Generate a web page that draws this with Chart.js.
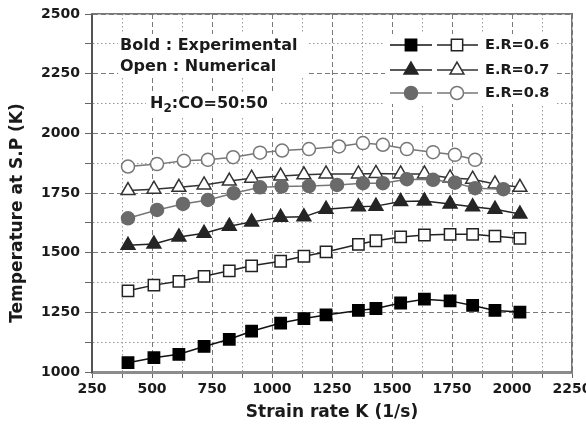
<!DOCTYPE html>
<html><head><meta charset="utf-8">
<script src="https://cdn.jsdelivr.net/npm/chart.js@4/dist/chart.umd.min.js"></script>
<style>
html,body{margin:0;padding:0;background:#fff;overflow:hidden;}
#wrap{position:relative;width:600px;height:438px;}
</style></head><body>
<div id="wrap"><canvas id="c" width="600" height="438"></canvas></div>
<script>
// ---- data ----
const strainRate07 = [400, 508, 612, 717, 822, 915, 1036, 1133, 1225, 1360, 1433, 1536, 1635, 1742, 1836, 1929, 2033];
const strainRate06 = strainRate07;
const tempExp06 = [1039, 1060, 1074, 1107, 1137, 1171, 1205, 1224, 1239, 1258, 1266, 1289, 1305, 1298, 1279, 1258, 1251];
const tempNum06 = [1340, 1364, 1380, 1401, 1424, 1445, 1464, 1485, 1503, 1535, 1550, 1566, 1574, 1577, 1577, 1569, 1560];
const tempExp07 = [1531, 1536, 1566, 1581, 1611, 1629, 1648, 1650, 1682, 1692, 1695, 1714, 1716, 1704, 1692, 1682, 1662];
const tempNum07 = [1760, 1766, 1774, 1784, 1800, 1812, 1821, 1826, 1830, 1830, 1832, 1830, 1830, 1813, 1808, 1788, 1774];
const strainRateExp08 = [400, 521, 629, 733, 840, 950, 1040, 1154, 1271, 1379, 1462, 1562, 1671, 1762, 1846, 1964];
const tempExp08 = [1644, 1679, 1704, 1721, 1749, 1774, 1777, 1779, 1784, 1791, 1791, 1808, 1805, 1793, 1770, 1766];
const strainRateNum08 = [400, 521, 633, 733, 838, 950, 1042, 1154, 1279, 1379, 1462, 1562, 1671, 1762, 1846];
const tempNum08 = [1861, 1871, 1885, 1889, 1900, 1919, 1928, 1934, 1945, 1959, 1952, 1934, 1921, 1910, 1889];
const legendLabels = ['E.R=0.6', 'E.R=0.7', 'E.R=0.8'];
const xTitle = 'Strain rate K (1/s)';
const yTitle = 'Temperature at S.P (K)';

const FONT = "'DejaVu Sans', Verdana, sans-serif";
const pts = (xs, ys) => xs.map((x, i) => ({x, y: ys[i]}));

const styles = [
  {shape:'rect', r:8, fill:'#000000', stroke:'#000000', line:'#111111'},
  {shape:'rect', r:8, fill:'#ffffff', stroke:'#222222', line:'#222222'},
  {shape:'triangle', r:8, fill:'#252525', stroke:'#252525', line:'#222222'},
  {shape:'triangle', r:8, fill:'#ffffff', stroke:'#333333', line:'#333333'},
  {shape:'circle', r:6.5, fill:'#6a6a6a', stroke:'#6a6a6a', line:'#777777'},
  {shape:'circle', r:6.5, fill:'#ffffff', stroke:'#777777', line:'#777777'}
];
function ds(label, data, s, order) {
  return {label, data, order, borderColor:s.line, borderWidth:1.5, backgroundColor:s.fill,
    pointStyle:s.shape, pointRadius:s.r, pointHoverRadius:s.r, pointBackgroundColor:s.fill,
    pointBorderColor:s.stroke, pointBorderWidth:1.5, tension:0, fill:false};
}

function drawMarker(ctx, s, x, y) {
  ctx.save();
  ctx.fillStyle = s.fill; ctx.strokeStyle = s.stroke; ctx.lineWidth = 1.5;
  ctx.beginPath();
  if (s.shape === 'rect') {
    const h = s.r * Math.SQRT1_2; ctx.rect(x - h, y - h, 2*h, 2*h);
  } else if (s.shape === 'triangle') {
    for (let k = 0; k < 3; k++) {
      const a = -Math.PI/2 + k*2*Math.PI/3;
      const px = x + Math.cos(a)*s.r, py = y + Math.sin(a)*s.r;
      k ? ctx.lineTo(px, py) : ctx.moveTo(px, py);
    }
    ctx.closePath();
  } else { ctx.arc(x, y, s.r, 0, Math.PI*2); }
  ctx.fill(); ctx.stroke(); ctx.restore();
}

const overlay = {
  id:'overlay',
  beforeDatasetsDraw(chart) {
    const ctx = chart.ctx;
    ctx.save(); ctx.fillStyle = '#fff';
    ctx.fillRect(118, 34, 190, 44);
    ctx.fillRect(146, 93, 134, 24);
    ctx.fillRect(385, 34, 170, 70);
    ctx.restore();
  },
  afterDatasetsDraw(chart) {
    const ctx = chart.ctx;
    ctx.save();
    ctx.fillStyle = '#1a1a1a'; ctx.textBaseline = 'middle'; ctx.textAlign = 'left';
    ctx.font = "bold 16px " + FONT;
    ctx.fillText('Bold : Experimental', 120, 46);
    ctx.fillText('Open : Numerical', 120, 67);
    // H2:CO=50:50 with subscript
    let x = 150;
    ctx.fillText('H', x, 104); x += ctx.measureText('H').width;
    ctx.font = "bold 12px " + FONT; ctx.fillText('2', x, 109); x += ctx.measureText('2').width;
    ctx.font = "bold 16px " + FONT; ctx.fillText(':CO=50:50', x, 104);
    // legend
    ctx.font = "bold 14.5px " + FONT;
    const rows = [45, 70, 93];
    for (let i = 0; i < 3; i++) {
      const y = rows[i], se = styles[2*i], sn = styles[2*i+1];
      ctx.strokeStyle = se.line; ctx.lineWidth = 1.5;
      ctx.beginPath(); ctx.moveTo(390, y); ctx.lineTo(432, y); ctx.stroke();
      drawMarker(ctx, se, 411, y);
      ctx.strokeStyle = sn.line;
      ctx.beginPath(); ctx.moveTo(437, y); ctx.lineTo(478, y); ctx.stroke();
      drawMarker(ctx, sn, 457, y);
      ctx.fillStyle = '#1a1a1a';
      ctx.fillText(legendLabels[i], 485, y);
    }
    // y-axis title
    ctx.translate(18, 213); ctx.rotate(-Math.PI/2);
    ctx.textAlign = 'center'; ctx.font = "bold 17px " + FONT;
    ctx.fillText(yTitle, 0, 0);
    ctx.restore();
  }
};

function gridColor(c) {
  const v = c.tick ? c.tick.value : 0;
  return (v % 250 === 0) ? '#7a7a7a' : '#999999';
}
function gridDash(c) {
  if (!c.tick) return [];
  return (c.tick.value % 250 === 0) ? [5, 3] : [1.5, 2.5];
}

new Chart(document.getElementById('c'), {
  type:'line',
  data:{datasets:[
    ds('E.R=0.6 exp', pts(strainRate06, tempExp06), styles[0], 1),
    ds('E.R=0.6 num', pts(strainRate06, tempNum06), styles[1], 2),
    ds('E.R=0.7 exp', pts(strainRate07, tempExp07), styles[2], 3),
    ds('E.R=0.7 num', pts(strainRate07, tempNum07), styles[3], 5),
    ds('E.R=0.8 exp', pts(strainRateExp08, tempExp08), styles[4], 4),
    ds('E.R=0.8 num', pts(strainRateNum08, tempNum08), styles[5], 6)
  ]},
  options:{
    responsive:false, animation:false, events:[],
    layout:{padding:{top:14, right:28, left:0, bottom:0}},
    plugins:{legend:{display:false}, tooltip:{enabled:false}},
    scales:{
      x:{type:'linear', min:250, max:2250,
        afterFit(s){ s.height = 66; },
        ticks:{stepSize:125, autoSkip:false, maxRotation:0, color:'#1a1a1a', padding:3,
          font:{family:FONT, weight:'bold', size:14},
          callback:v => (v % 250 === 0) ? String(v) : ''},
        grid:{color:gridColor, lineWidth:1, tickLength:6, tickColor:'#666', tickWidth:1},
        border:{display:true, color:'#8c8c8c', width:3, dash:gridDash},
        title:{display:true, text:xTitle, color:'#1a1a1a', font:{family:FONT, weight:'bold', size:17}, padding:{top:0, bottom:15}}
      },
      y:{type:'linear', min:1000, max:2500,
        afterFit(s){ s.width = 92; },
        ticks:{stepSize:125, autoSkip:false, color:'#1a1a1a', padding:5,
          font:{family:FONT, weight:'bold', size:14},
          callback:v => (v % 250 === 0) ? String(v) : ''},
        grid:{color:gridColor, lineWidth:1, tickLength:7, tickColor:'#666', tickWidth:1},
        border:{display:true, color:'#555', width:2, dash:gridDash}
      },
      xTop:{type:'linear', position:'top', min:250, max:2250,
        ticks:{display:false}, grid:{display:false, drawTicks:false},
        border:{display:true, color:'#777', width:1.5}},
      yRight:{type:'linear', position:'right', min:1000, max:2500,
        ticks:{display:false}, grid:{display:false, drawTicks:false},
        border:{display:true, color:'#777', width:1.5}}
    }
  },
  plugins:[overlay]
});
</script>
</body></html>
